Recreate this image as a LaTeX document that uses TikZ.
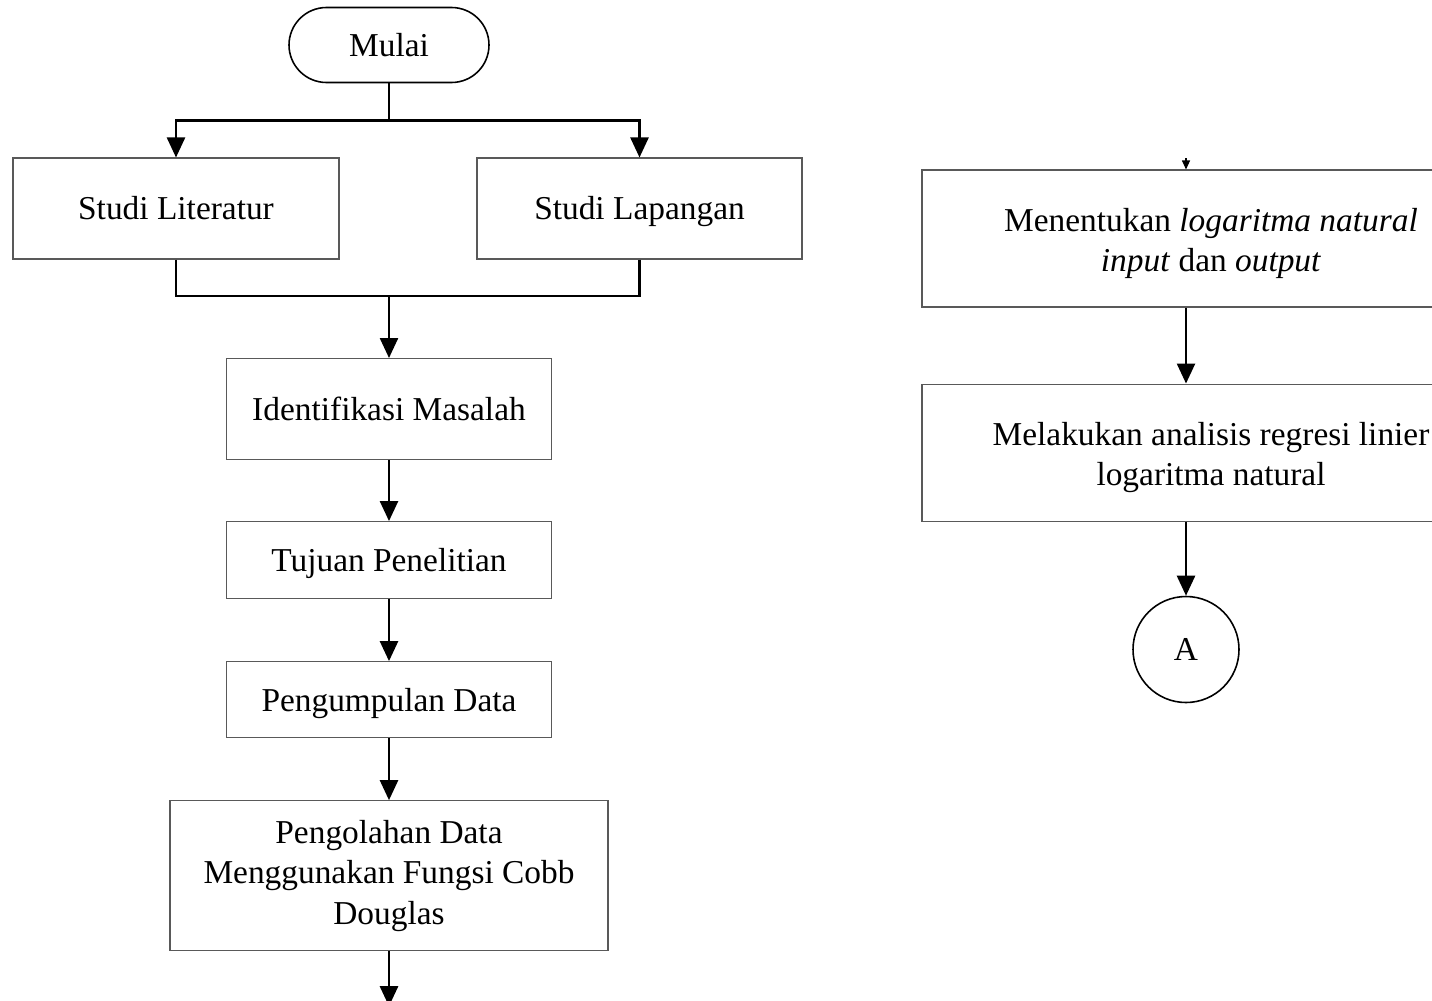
\documentclass[tikz,border=0pt]{standalone}
\usepackage{fontspec}
\setmainfont{Liberation Serif}
\usetikzlibrary{arrows.meta,positioning}
\tikzset{
  box/.style={
    rectangle,
    draw=black!65,
    line width=0.6pt,
    align=center,
    inner sep=2pt,
    font=\fontsize{19}{23}\selectfont
  },
  stepbox/.style={
    box,
    minimum width=6.5cm,
    minimum height=2.02cm,
    text height=14pt,
    text depth=1pt
  },
  widebox/.style={
    box,
    minimum width=11.56cm,
    minimum height=2.74cm,
    text height=40pt,
    text depth=2pt
  },
  terminal/.style={
    box,
    draw=black,
    line width=0.9pt,
    rounded corners=7.5mm,
    minimum width=4cm,
    minimum height=1.5cm
  },
  connector/.style={
    circle,
    draw=black,
    line width=0.9pt,
    minimum size=2.12cm,
    inner sep=0pt,
    font=\fontsize{19}{23}\selectfont
  },
  line/.style={
    line width=1.4pt,
    draw=black
  },
  arrow/.style={
    line,
    -{Triangle[length=4mm,width=3.6mm]}
  },
  smallarrow/.style={
    line width=0.6pt,
    -{Triangle[length=1.8mm,width=1.6mm]}
  }
}

\begin{document}
\begin{tikzpicture}[node distance=1.24cm]
  \useasboundingbox (0,0) rectangle (28.64,-20);
  % left column
  \node[terminal] (mulai) at (7.78,-0.9) {Mulai};
  \coordinate[below=0.74cm of mulai] (split);
  \node[stepbox, minimum width=6.52cm] (literatur) at (3.52,-4.17) {Studi Literatur};
  \node[stepbox] (lapangan) at (12.79,-4.17) {Studi Lapangan};
  \coordinate (merge) at (7.78,-5.92);
  \node[stepbox, below=of merge] (identifikasi) {Identifikasi Masalah};
  \node[stepbox, below=1.22cm of identifikasi, minimum height=1.54cm] (tujuan) {Tujuan Penelitian};
  \node[stepbox, below=of tujuan, minimum height=1.52cm] (pengumpulan) {Pengumpulan Data};
  \node[box, below=of pengumpulan, minimum width=8.76cm, minimum height=3cm] (pengolahan)
    {Pengolahan Data\\Menggunakan Fungsi Cobb\\Douglas};
  \coordinate[below=1.1cm of pengolahan] (lanjut);

  % right column
  \node[widebox] (menentukan) at (24.22,-4.77)
    {Menentukan \textit{logaritma natural}\\\textit{input} dan \textit{output}};
  \node[widebox, below=1.52cm of menentukan] (melakukan)
    {Melakukan analisis regresi linier\\logaritma natural};
  \node[connector] (konektorA) at (23.72,-12.99) {A};
  \coordinate (masuk) at (23.72,-3.16);

  \draw[line] (mulai) -- (split);
  \draw[arrow] (split) -| (literatur);
  \draw[arrow] (split) -| (lapangan);
  \draw[line] (literatur) |- (merge);
  \draw[line] (lapangan) |- (merge);
  \draw[arrow] (merge) -- (identifikasi);
  \draw[arrow] (identifikasi) -- (tujuan);
  \draw[arrow] (tujuan) -- (pengumpulan);
  \draw[arrow] (pengumpulan) -- (pengolahan);
  \draw[arrow] (pengolahan) -- (lanjut);

  \draw[smallarrow] (masuk) -- (menentukan.north -| konektorA);
  \draw[arrow] (menentukan.south -| konektorA) -- (melakukan.north -| konektorA);
  \draw[arrow] (melakukan.south -| konektorA) -- (konektorA);
\end{tikzpicture}
\end{document}
